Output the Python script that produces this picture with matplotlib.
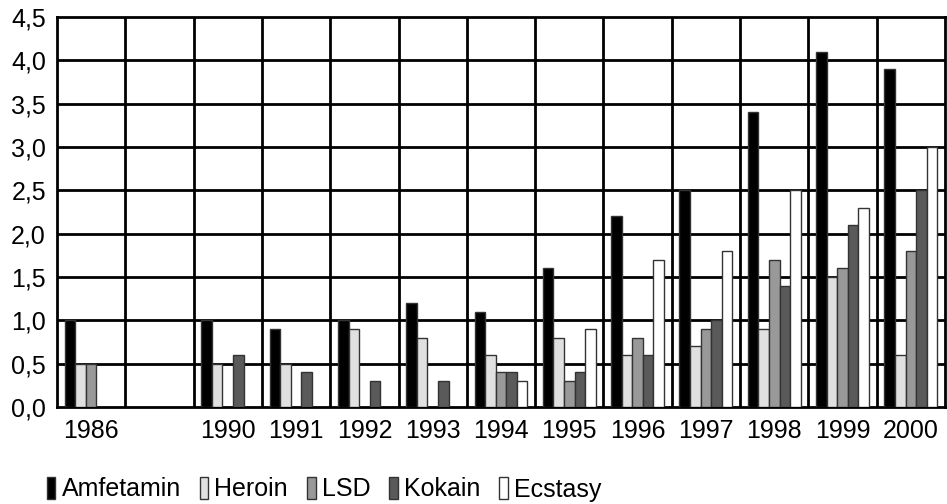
import numpy as np
import matplotlib.pyplot as plt
from matplotlib.patches import Patch

plt.rcParams['font.family'] = ['Liberation Sans', 'DejaVu Sans']

# Data
years = ["1986", "", "1990", "1991", "1992", "1993", "1994", "1995",
         "1996", "1997", "1998", "1999", "2000"]
amfetamin = [1.0, 0, 1.0, 0.9, 1.0, 1.2, 1.1, 1.6, 2.2, 2.5, 3.4, 4.1, 3.9]
heroin = [0.5, 0, 0.5, 0.5, 0.9, 0.8, 0.6, 0.8, 0.6, 0.7, 0.9, 1.5, 0.6]
lsd = [0.5, 0, 0, 0, 0, 0, 0.4, 0.3, 0.8, 0.9, 1.7, 1.6, 1.8]
kokain = [0, 0, 0.6, 0.4, 0.3, 0.3, 0.4, 0.4, 0.6, 1.0, 1.4, 2.1, 2.5]
ecstasy = [0, 0, 0, 0, 0, 0, 0.3, 0.9, 1.7, 1.8, 2.5, 2.3, 3.0]

series = [("Amfetamin", amfetamin, "#000000"),
          ("Heroin", heroin, "#e0e0e0"),
          ("LSD", lsd, "#999999"),
          ("Kokain", kokain, "#5a5a5a"),
          ("Ecstasy", ecstasy, "#ffffff")]

fig = plt.figure(figsize=(9.47, 5.04), dpi=100)
ax = fig.add_axes([57 / 947, 1 - 407 / 504, 888 / 947, 390 / 504])

x = np.arange(len(years))
w = 0.155
for i, (name, vals, col) in enumerate(series):
    v = np.array(vals, dtype=float)
    mask = v > 0
    ax.bar(x[mask] + (i - 2) * w, v[mask], width=w, color=col,
           edgecolor="#333333", linewidth=1.0, zorder=3)

ax.set_xlim(-0.5, len(years) - 0.5)
ax.set_ylim(0, 4.5)
ticks = np.arange(0, 4.51, 0.5)
ax.set_yticks(ticks)
ax.set_yticklabels([f"{t:.1f}".replace(".", ",") for t in ticks])
ax.set_xticks(x)
ax.set_xticklabels(years)

# grid: horizontal at ticks, vertical at category boundaries
for yv in np.arange(0.5, 4.5, 0.5):
    ax.axhline(yv, color="black", linewidth=2, zorder=1)
for xv in np.arange(0.5, len(years) - 1, 1.0):
    ax.axvline(xv, color="black", linewidth=2, zorder=1)

for s in ax.spines.values():
    s.set_linewidth(2)
ax.tick_params(length=0, labelsize=18)
ax.tick_params(axis="x", pad=9)
ax.tick_params(axis="y", pad=8)

handles = [Patch(facecolor=c, edgecolor="#333333", label=n) for n, _, c in series]
fig.legend(handles=handles, loc="lower left", bbox_to_anchor=(34 / 947, -10 / 504),
           borderpad=0, ncol=5, frameon=False, fontsize=18, handlelength=0.35,
           handleheight=1.0, handletextpad=0.25, columnspacing=0.75)

fig.savefig("out.png", dpi=100)
